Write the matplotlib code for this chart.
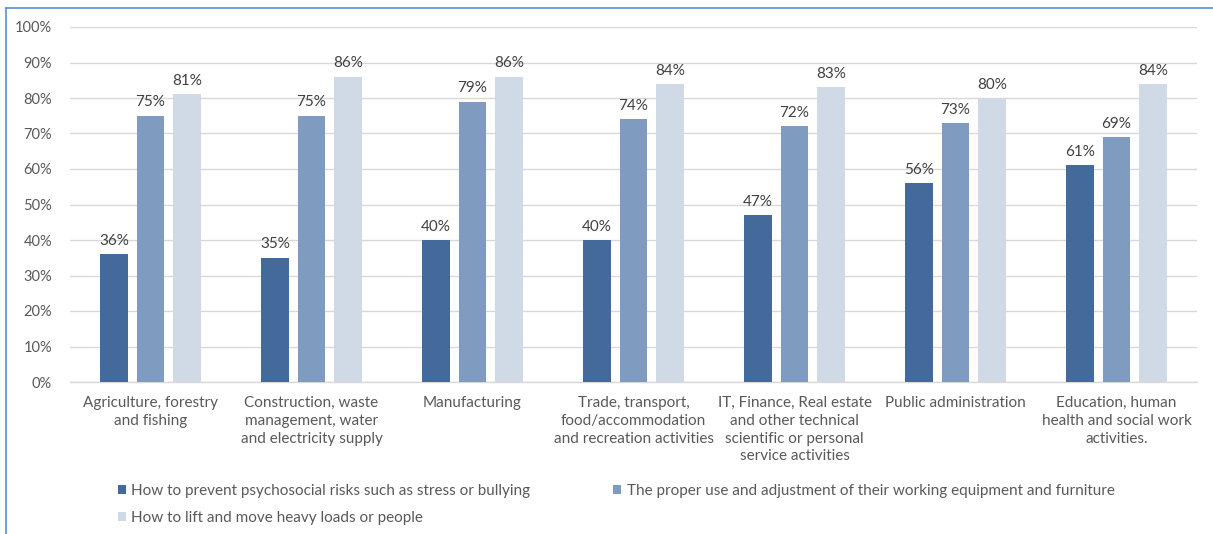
import matplotlib
matplotlib.use("Agg")
import matplotlib.pyplot as plt
from matplotlib.lines import Line2D
from matplotlib.patches import Patch
import numpy as np

categories = [
    "Agriculture, forestry\nand fishing",
    "Construction, waste\nmanagement, water\nand electricity supply",
    "Manufacturing",
    "Trade, transport,\nfood/accommodation\nand recreation activities",
    "IT, Finance, Real estate\nand other technical\nscientific or personal\nservice activities",
    "Public administration",
    "Education, human\nhealth and social work\nactivities.",
]
series_names = [
    "How to prevent psychosocial risks such as stress or bullying",
    "The proper use and adjustment of their working equipment and furniture",
    "How to lift and move heavy loads or people",
]
psychosocial = [36, 35, 40, 40, 47, 56, 61]
equipment = [75, 75, 79, 74, 72, 73, 69]
heavy_loads = [81, 86, 86, 84, 83, 80, 84]
yticks = [0, 10, 20, 30, 40, 50, 60, 70, 80, 90, 100]

colors = ["#44699b", "#7f9bc0", "#d0dae6"]
FONT = ["Lato", "DejaVu Sans"]
plt.rcParams["font.family"] = FONT

W, H = 1213, 534
fig = plt.figure(figsize=(W / 100, H / 100), dpi=100)
ax = fig.add_axes([70 / W, 1 - 382 / H, (1197 - 70) / W, (382 - 27) / H])

x = np.arange(len(categories))
bw = 0.172
pitch = 0.226
handles = []
for i, (vals, c) in enumerate(zip([psychosocial, equipment, heavy_loads], colors)):
    bars = ax.bar(x + (i - 1) * pitch, vals, width=bw, color=c, zorder=3)
    handles.append(Patch(facecolor=c, edgecolor="none"))
    for b, v in zip(bars, vals):
        ax.annotate(f"{v}%", (b.get_x() + b.get_width() / 2, v),
                    xytext=(0, 4.5), textcoords="offset points",
                    ha="center", va="bottom", fontsize=11, color="#404040")

ax.set_xlim(-0.5, len(categories) - 0.5)
ax.set_ylim(0, 100)
ax.set_yticks(yticks)
ax.set_yticklabels([f"{t}%" for t in yticks], fontsize=10.5, color="#595959")
ax.set_xticks(x)
ax.set_xticklabels(categories, fontsize=11, color="#595959", linespacing=1.35)
ax.tick_params(axis="both", length=0)
ax.tick_params(axis="x", pad=10)
ax.tick_params(axis="y", pad=13)
ax.grid(axis="y", color="#d9d9d9", linewidth=1, zorder=0)
for s in ["top", "right", "left"]:
    ax.spines[s].set_visible(False)
ax.spines["bottom"].set_color("#d9d9d9")
ax.spines["bottom"].set_linewidth(1)

leg = fig.legend([handles[0], handles[2], handles[1]],
                 [series_names[0], series_names[2], series_names[1]],
                 ncol=2, loc="upper left",
                 bbox_to_anchor=(110 / W, 1 - 476 / H),
                 frameon=False, fontsize=11,
                 handlelength=0.55, handleheight=0.55, handletextpad=0.35,
                 columnspacing=5.4, labelspacing=0.85, borderpad=0)
for t in leg.get_texts():
    t.set_color("#595959")

# blue frame border (top and left)
border = "#5b8fd6"
fig.add_artist(Line2D([6 / W, 1], [1 - 8 / H, 1 - 8 / H], color=border, linewidth=1.2, transform=fig.transFigure))
fig.add_artist(Line2D([6 / W, 6 / W], [0, 1 - 8 / H], color=border, linewidth=1.2, transform=fig.transFigure))

fig.savefig("out.png", dpi=100)
